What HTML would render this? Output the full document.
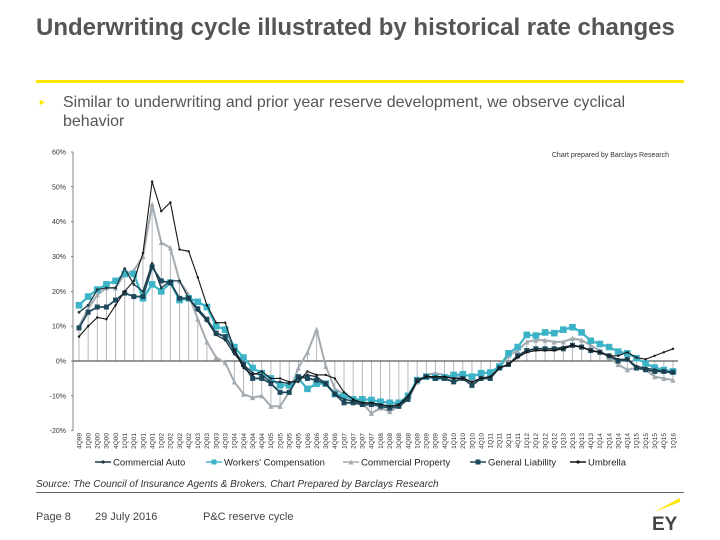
<!DOCTYPE html>
<html><head><meta charset="utf-8">
<style>
body{margin:0;width:720px;height:540px;background:#fff;font-family:"Liberation Sans",sans-serif;position:relative;overflow:hidden}
.abs{position:absolute}
</style></head><body>
<div class="abs" style="left:36px;top:14px;font-size:24px;font-weight:bold;color:#555;white-space:nowrap">Underwriting cycle illustrated by historical rate changes</div>
<div class="abs" style="left:36px;top:80px;width:648px;height:3px;background:#ffe600"></div>
<div class="abs" style="left:38px;top:97px;font-size:9px;color:#ffe600">►</div>
<div class="abs" style="left:63px;top:93px;width:600px;font-size:16px;line-height:19px;color:#555">Similar to underwriting and prior year reserve development, we observe cyclical behavior</div>
<svg class="abs" style="left:0;top:0" width="720" height="540">
<g id="chart"></g>
<text x="669" y="157" font-size="7" text-anchor="end" fill="#333">Chart prepared by Barclays Research</text>
</svg>
<div class="abs" style="left:36px;top:479px;font-size:10px;font-style:italic;color:#333">Source: The Council of Insurance Agents &amp; Brokers. Chart Prepared by Barclays Research</div>
<div class="abs" style="left:36px;top:492px;width:648px;height:1px;background:#666"></div>
<div class="abs" style="left:36px;top:511px;font-size:11px;color:#444">Page 8</div>
<div class="abs" style="left:95px;top:511px;font-size:11px;color:#444">29 July 2016</div>
<div class="abs" style="left:203px;top:511px;font-size:11px;color:#444">P&amp;C reserve cycle</div>
<svg class="abs" style="left:648px;top:496px" width="40" height="38">
<polygon points="6,16 32,2 32,6" fill="#ffe600"/>
<text x="4" y="34" font-size="19" font-weight="bold" fill="#444" font-family="Liberation Sans">EY</text>
</svg>
<script>
const quarters=[];
for(let y=1999,q=4;quarters.length<66;){quarters.push(q+'Q'+String(y%100).padStart(2,'0'));q++;if(q>4){q=1;y++;}}
const commercialAuto=[14,16,20.5,21,21,26.5,22,20,28,21,23,23,18,14.5,11.5,7.5,6,2,-1,-3.5,-4,-6,-6,-6.5,-5,-4,-4.5,-6.5,-9.5,-11,-11.5,-12,
-12,-12.5,-13,-12.5,-10.5,-5.5,-4.5,-4.5,-4.5,-5,-5,-6,-5,-4.5,-2,-1,1.5,3,3.5,3.5,3.5,4,4.5,4,3,2.5,1.5,0.5,0.5,-1.5,-2,-2.5,-3,-3.5];
const workersComp=[16,18.5,20.5,22,23,25,25,18,22,20,22.5,17.5,18,17,15.5,10,9,4,1,-2,-3.5,-5,-7,-7,-5,-8,-6.5,-6.5,-9.5,-10,-11,-11,
-11.2,-11.7,-12,-12,-10,-5.5,-4.5,-4.7,-4.7,-4,-3.8,-4.5,-3.5,-3.3,-1.6,2.2,4,7.5,7.3,8.2,8,9,9.7,8.2,5.8,4.9,4,2.7,2.2,0.8,-0.7,-1.9,-2.6,-3];
const commercialProperty=[10,15,19,21,21,25,26,30,45,34,32.5,23,19,12,5.5,1,-0.5,-6,-9.5,-10.5,-10,-13,-13,-9,-2,2.5,9,-1.5,-8,-9.5,-11,-12,
-15,-13.5,-14.5,-13,-11,-6,-4,-3.5,-4,-4.5,-4.5,-6.5,-5,-4.5,-2,1.5,3,5.5,6,6,5.5,5.5,6.5,6,4.5,3,1,-1,-2.5,-2,-2.5,-4.5,-5,-5.5];
const generalLiability=[9.5,14,15.5,15.5,17.5,19.5,18.5,18.5,27,23,22.5,18,18,15,12,8,7,3,-1,-5,-5,-6.5,-9,-9,-4.5,-5,-5.5,-6.5,-9.5,-12,-12,-12.5,
-12.5,-13,-13.5,-13,-11,-5.5,-4.5,-5,-5,-6,-5,-7,-5,-5,-2,-1,1.5,3,3.5,3.5,3.5,3.5,4.5,4,3,2.5,1.5,0,0.5,-2,-2.5,-3,-3,-3.2];
const umbrella=[7,10,12.5,12,16,20,23,31,51.5,43,45.5,32,31.5,24,16,11,11,3,-2,-4,-3,-5,-5,-6,-6,-3,-4,-4,-5,-9,-11,-12,
-12,-12.5,-13,-12.5,-10,-6,-4.5,-4.5,-4.5,-5,-5,-6,-5,-4.5,-2,-1,1,2.5,3,3,3,3.5,4.5,4,3,2.5,1.5,1.5,2.5,1,0.5,1.5,2.5,3.5];
const yTicks=[60,50,40,30,20,10,0,-10,-20];
const seriesNames=["Commercial Auto","Workers' Compensation","Commercial Property","General Liability","Umbrella"];

const NS="http://www.w3.org/2000/svg";
const g=document.getElementById('chart');
const X0=79,X1=673,Y60=152,Y0=361;
const xs=i=>X0+(X1-X0)*i/(quarters.length-1);
const ys=v=>Y0-(Y0-Y60)*v/60;
function mk(t,a,p){const e=document.createElementNS(NS,t);for(const k in a)e.setAttribute(k,a[k]);(p||g).appendChild(e);return e;}
let ax=mk('line',{x1:73,y1:ys(60),x2:73,y2:ys(-20),stroke:'#666','stroke-width':0.8});


yTicks.forEach(v=>{
  const t=mk('text',{x:66,y:ys(v)+2.5,'font-size':7,'text-anchor':'end',fill:'#333'});
  t.textContent=v+'%';
  
  
  mk('line',{x1:71,y1:ys(v),x2:73,y2:ys(v),stroke:'#666','stroke-width':0.8});
});
commercialProperty.forEach((v,i)=>{
  const l=mk('line',{x1:xs(i),y1:ys(0),x2:xs(i),y2:ys(v),stroke:'#aab0b5','stroke-width':0.9});
  
  
});
let zl=mk('line',{x1:73,y1:ys(0),x2:X1+5,y2:ys(0),stroke:'#333','stroke-width':0.9});


quarters.forEach((q,i)=>{
  const t=mk('text',{x:0,y:0,'font-size':6.5,'text-anchor':'end',fill:'#333',transform:`translate(${xs(i)+2.3},${433}) rotate(-90)`});
  t.textContent=q;
  
  
});
const styles=[
 {d:commercialProperty,c:'#a3abb1',w:2,m:'tri',s:2.6,n:'commercial-property'},
 {d:workersComp,c:'#3db3c7',w:2.2,m:'sq',s:3.3,n:'workers-compensation'},
 {d:generalLiability,c:'#1e4a5e',w:1.8,m:'sq',s:2.5,n:'general-liability'},
 {d:commercialAuto,c:'#1c3947',w:1.3,m:'dot',s:1.4,n:'commercial-auto'},
 {d:umbrella,c:'#151515',w:1.1,m:'dot',s:1.2,n:'umbrella'}];
styles.forEach(st=>{
  const grp=mk('g',{});
  
  
  mk('polyline',{points:st.d.map((v,i)=>xs(i)+','+ys(v)).join(' '),fill:'none',stroke:st.c,'stroke-width':st.w},grp);
  st.d.forEach((v,i)=>{
    const x=xs(i),y=ys(v);let e;
    if(st.m==='sq')e=mk('rect',{x:x-st.s,y:y-st.s,width:2*st.s,height:2*st.s,fill:st.c},grp);
    else if(st.m==='tri')e=mk('polygon',{points:`${x},${y-st.s} ${x-st.s},${y+st.s} ${x+st.s},${y+st.s}`,fill:st.c},grp);
    else e=mk('circle',{cx:x,cy:y,r:st.s,fill:st.c},grp);
    
    
  });
});
const lx=[95,206,343,470,570],lc=['#1c3947','#3db3c7','#a3abb1','#1e4a5e','#151515'],lm=['dot','sq','tri','sq','dot'];
seriesNames.forEach((n,k)=>{
  const lg=mk('g',{});
  
  
  mk('line',{x1:lx[k],y1:462,x2:lx[k]+16,y2:462,stroke:lc[k],'stroke-width':1.5},lg);
  const c=lx[k]+8;
  if(lm[k]==='sq')mk('rect',{x:c-2.5,y:459.5,width:5,height:5,fill:lc[k]},lg);
  else if(lm[k]==='tri')mk('polygon',{points:`${c},459.5 ${c-2.5},464.5 ${c+2.5},464.5`,fill:lc[k]},lg);
  else mk('circle',{cx:c,cy:462,r:1.6,fill:lc[k]},lg);
  const t=mk('text',{x:lx[k]+18,y:465.5,'font-size':9.5,fill:'#222'},lg);
  t.textContent=n;
});
</script>
</body></html>
